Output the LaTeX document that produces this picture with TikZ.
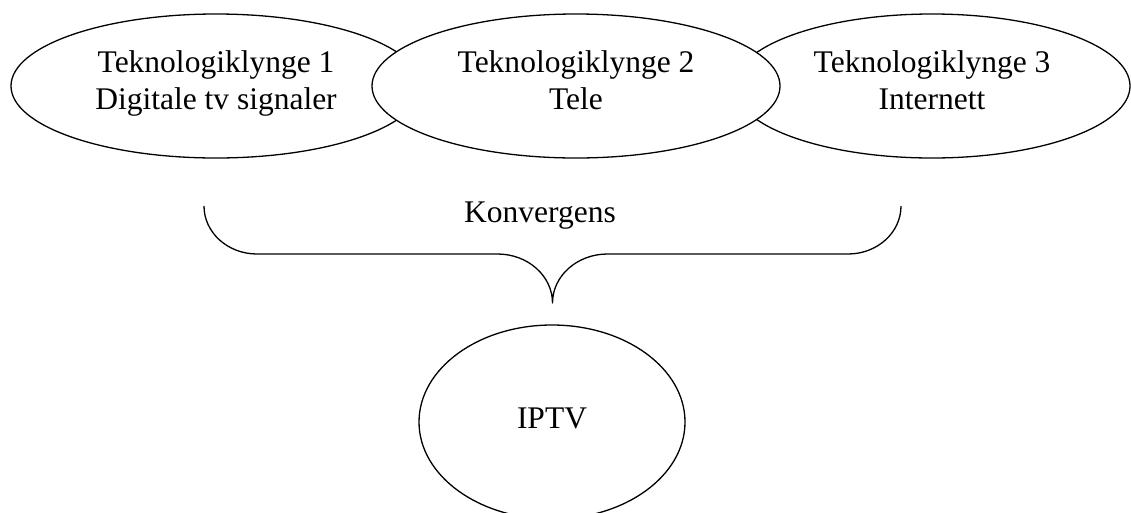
\documentclass[tikz,border=0pt]{standalone}
\usepackage{fontspec}
\setmainfont{Liberation Serif}
\usetikzlibrary{shapes.geometric}
\begin{document}
\begin{tikzpicture}[x=1pt,y=1pt,
  line width=1.3pt,
  every node/.style={font=\fontsize{31.5pt}{37pt}\selectfont},
  cluster/.style={ellipse, draw, fill=white, inner sep=0pt, align=center,
                  minimum height=144pt},
  result/.style={ellipse, draw, fill=white, inner sep=0pt,
                 minimum width=266pt, minimum height=194pt, text depth=8pt},
  brace/.style={draw, line width=1.3pt, line join=round}
]
% page frame
\useasboundingbox (0,0) rectangle (1131,-512);
\fill[white] (0,0) rectangle (1131,-512);

% technology clusters (the middle one is drawn last, on top)
\node[cluster, minimum width=410pt] (k1) at (216,-86)
  {Teknologiklynge 1\\Digitale tv signaler\strut};
\node[cluster, minimum width=396pt] (k3) at (932,-86)
  {Teknologiklynge 3\\Internett\strut};
\node[cluster, minimum width=408pt] (k2) at (576,-86)
  {Teknologiklynge 2\\Tele\strut};

% convergence brace
\coordinate (bl) at (204,-206);
\coordinate (br) at (901,-206);
\coordinate (tip) at (552.5,-303);
\draw[brace] (bl) arc[start angle=180, end angle=270, x radius=53, y radius=48]
  -- (497.5,-254) arc[start angle=90, end angle=0, x radius=55, y radius=49]
  arc[start angle=180, end angle=90, x radius=55, y radius=49]
  -- (848,-254) arc[start angle=270, end angle=360, x radius=53, y radius=48];
\node[anchor=base] (konv) at (540,-222) {Konvergens};

% result
\node[result] (iptv) at (552,-422) {IPTV};
\end{tikzpicture}
\end{document}
